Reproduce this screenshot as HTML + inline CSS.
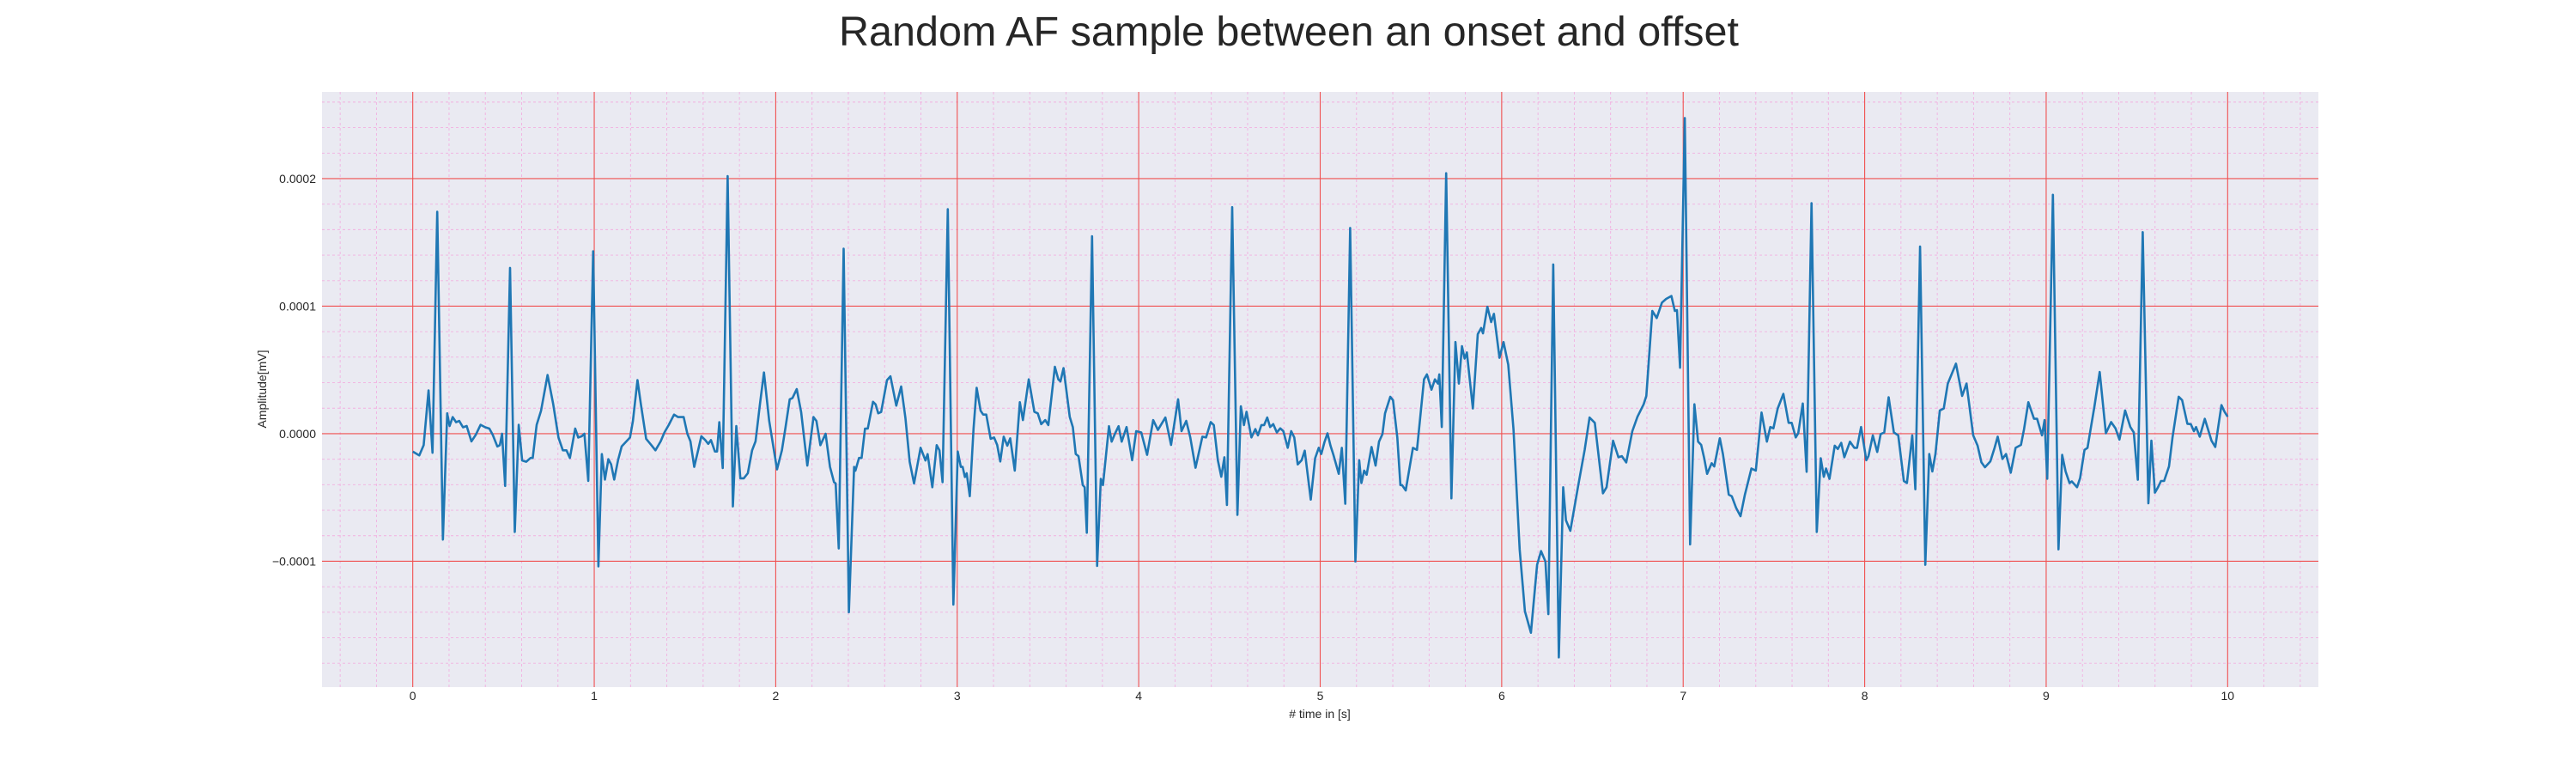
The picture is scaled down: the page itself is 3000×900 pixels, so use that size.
<!DOCTYPE html>
<html><head><meta charset="utf-8"><style>
html,body{margin:0;padding:0;background:#fff;}
svg{display:block;font-family:"Liberation Sans",Arial,sans-serif;}
</style></head><body>
<svg id="chart" width="3000" height="900" viewBox="0 0 3000 900" xmlns="http://www.w3.org/2000/svg">
<text x="1501" y="53" font-size="48.5" fill="#262626" text-anchor="middle">Random AF sample between an onset and offset</text>
<rect x="375" y="107" width="2325" height="693" fill="#EAEAF2"/>
<g id="minorGrid"></g>
<g id="majorGrid"></g>
<g id="series"></g>
<g id="xTicks"></g>
<g id="yTicks"></g>
<text x="1537" y="836" font-size="14" fill="#262626" text-anchor="middle"># time in [s]</text>
<text x="310" y="453" font-size="14" fill="#262626" text-anchor="middle" transform="rotate(-90 310 453)">Amplitude[mV]</text>
</svg>
<script>
const times = [0,0.036,0.06,0.087,0.109,0.135,0.166,0.19,0.203,0.22,0.239,0.256,0.277,0.297,0.323,0.347,0.374,0.40,0.422,0.441,0.466,0.48,0.492,0.509,0.536,0.562,0.584,0.603,0.625,0.649,0.661,0.683,0.707,0.743,0.774,0.803,0.827,0.847,0.866,0.895,0.912,0.931,0.946,0.967,0.994,1.023,1.042,1.059,1.078,1.093,1.11,1.131,1.151,1.177,1.197,1.213,1.238,1.257,1.286,1.315,1.337,1.366,1.387,1.411,1.44,1.462,1.479,1.493,1.513,1.53,1.551,1.571,1.59,1.612,1.628,1.643,1.665,1.677,1.689,1.708,1.735,1.764,1.783,1.805,1.824,1.846,1.87,1.889,1.913,1.935,1.964,2.007,2.034,2.053,2.077,2.092,2.116,2.14,2.174,2.191,2.208,2.224,2.246,2.275,2.299,2.321,2.33,2.347,2.374,2.403,2.432,2.439,2.459,2.473,2.492,2.507,2.536,2.55,2.565,2.581,2.613,2.632,2.664,2.691,2.715,2.738,2.762,2.798,2.825,2.837,2.863,2.887,2.902,2.919,2.948,2.979,3.003,3.02,3.03,3.042,3.052,3.069,3.09,3.107,3.129,3.143,3.16,3.184,3.203,3.220,3.237,3.256,3.276,3.292,3.317,3.345,3.362,3.394,3.425,3.444,3.463,3.485,3.502,3.538,3.557,3.569,3.586,3.620,3.637,3.653,3.668,3.692,3.702,3.714,3.743,3.771,3.791,3.803,3.836,3.851,3.870,3.889,3.906,3.933,3.964,3.986,4.014,4.046,4.080,4.106,4.147,4.178,4.217,4.236,4.262,4.284,4.313,4.351,4.371,4.397,4.414,4.436,4.455,4.472,4.486,4.515,4.544,4.563,4.580,4.594,4.621,4.643,4.657,4.676,4.691,4.708,4.724,4.741,4.761,4.780,4.797,4.821,4.840,4.857,4.876,4.898,4.915,4.948,4.972,4.992,5.006,5.023,5.040,5.057,5.073,5.102,5.119,5.138,5.165,5.194,5.215,5.227,5.242,5.256,5.283,5.305,5.324,5.343,5.357,5.386,5.401,5.425,5.442,5.451,5.471,5.511,5.533,5.572,5.588,5.613,5.632,5.649,5.656,5.670,5.694,5.723,5.745,5.764,5.781,5.796,5.808,5.841,5.868,5.887,5.897,5.921,5.942,5.957,5.988,6.010,6.036,6.065,6.099,6.128,6.161,6.195,6.217,6.241,6.257,6.284,6.315,6.339,6.354,6.378,6.421,6.457,6.484,6.513,6.558,6.578,6.614,6.643,6.662,6.686,6.720,6.748,6.782,6.797,6.830,6.854,6.883,6.906,6.935,6.954,6.966,6.983,7.009,7.038,7.062,7.082,7.099,7.116,7.132,7.157,7.171,7.202,7.219,7.251,7.268,7.292,7.316,7.340,7.376,7.400,7.432,7.461,7.480,7.497,7.521,7.552,7.581,7.598,7.620,7.634,7.659,7.680,7.707,7.736,7.758,7.775,7.787,7.806,7.835,7.852,7.871,7.888,7.919,7.943,7.958,7.980,8.009,8.021,8.045,8.069,8.088,8.108,8.132,8.161,8.185,8.216,8.233,8.262,8.279,8.305,8.334,8.356,8.373,8.390,8.414,8.436,8.458,8.503,8.537,8.561,8.598,8.622,8.643,8.663,8.692,8.716,8.733,8.759,8.779,8.805,8.832,8.861,8.878,8.902,8.933,8.950,8.977,8.991,9.006,9.037,9.068,9.088,9.107,9.129,9.141,9.170,9.187,9.211,9.228,9.266,9.295,9.329,9.358,9.382,9.404,9.435,9.464,9.483,9.505,9.532,9.563,9.580,9.599,9.616,9.633,9.650,9.677,9.696,9.730,9.749,9.778,9.797,9.814,9.826,9.846,9.874,9.911,9.932,9.966,9.983,10.0];
const amplitudes = [-0.14,-0.17,-0.09,0.34,-0.15,1.74,-0.83,0.16,0.06,0.13,0.09,0.10,0.05,0.06,-0.06,-0.01,0.07,0.05,0.04,-0.01,-0.10,-0.09,0.0,-0.41,1.30,-0.77,0.07,-0.21,-0.22,-0.19,-0.19,0.07,0.18,0.46,0.23,-0.03,-0.13,-0.13,-0.19,0.04,-0.03,-0.02,0.0,-0.37,1.43,-1.04,-0.16,-0.36,-0.20,-0.24,-0.36,-0.21,-0.10,-0.06,-0.03,0.10,0.42,0.23,-0.04,-0.09,-0.13,-0.06,0.01,0.07,0.15,0.13,0.13,0.13,0.0,-0.06,-0.26,-0.14,-0.02,-0.05,-0.08,-0.05,-0.14,-0.14,0.09,-0.27,2.02,-0.57,0.06,-0.35,-0.35,-0.31,-0.13,-0.06,0.23,0.48,0.10,-0.28,-0.13,0.04,0.27,0.28,0.35,0.17,-0.25,-0.06,0.13,0.10,-0.09,0.0,-0.26,-0.38,-0.39,-0.90,1.45,-1.40,-0.26,-0.29,-0.19,-0.19,0.04,0.04,0.25,0.23,0.16,0.17,0.42,0.45,0.22,0.37,0.12,-0.22,-0.39,-0.11,-0.21,-0.16,-0.42,-0.09,-0.13,-0.38,1.76,-1.34,-0.14,-0.26,-0.26,-0.34,-0.31,-0.49,0.04,0.36,0.18,0.15,0.15,-0.04,-0.03,-0.088,-0.218,-0.023,-0.094,-0.036,-0.289,0.247,0.107,0.426,0.172,0.159,0.075,0.107,0.068,0.524,0.426,0.410,0.514,0.133,0.052,-0.159,-0.176,-0.403,-0.420,-0.777,1.548,-1.037,-0.354,-0.403,0.059,-0.062,0.003,0.059,-0.062,0.052,-0.208,0.020,0.010,-0.166,0.107,0.029,0.127,-0.088,0.270,0.020,0.101,-0.029,-0.267,-0.023,-0.029,0.091,0.068,-0.208,-0.338,-0.185,-0.559,1.776,-0.637,0.215,0.068,0.172,-0.029,0.036,-0.013,0.068,0.068,0.127,0.052,0.075,0.010,0.042,0.020,-0.111,0.020,-0.029,-0.241,-0.208,-0.133,-0.517,-0.192,-0.111,-0.159,-0.068,0.003,-0.094,-0.166,-0.315,-0.111,-0.550,1.613,-1.002,-0.208,-0.387,-0.289,-0.322,-0.104,-0.250,-0.062,-0.003,0.159,0.289,0.263,-0.029,-0.403,-0.403,-0.445,-0.111,-0.127,0.426,0.465,0.345,0.426,0.393,0.465,0.052,2.042,-0.507,0.719,0.393,0.686,0.589,0.637,0.198,0.780,0.829,0.787,0.995,0.875,0.940,0.595,0.719,0.541,0.036,-0.907,-1.392,-1.561,-1.028,-0.920,-1.002,-1.415,1.327,-1.753,-0.420,-0.679,-0.761,-0.413,-0.127,0.127,0.085,-0.468,-0.420,-0.055,-0.185,-0.176,-0.225,0.020,0.133,0.231,0.296,0.963,0.907,1.028,1.057,1.08,0.963,0.969,0.517,2.475,-0.868,0.231,-0.062,-0.088,-0.192,-0.315,-0.231,-0.257,-0.036,-0.159,-0.478,-0.491,-0.582,-0.647,-0.478,-0.273,-0.289,0.166,-0.062,0.052,0.042,0.198,0.312,0.085,0.085,-0.029,0.003,0.237,-0.299,1.808,-0.770,-0.192,-0.338,-0.273,-0.354,-0.094,-0.120,-0.072,-0.185,-0.062,-0.111,-0.111,0.052,-0.208,-0.176,-0.013,-0.143,-0.003,0.010,0.286,0.010,-0.013,-0.371,-0.387,-0.013,-0.436,1.467,-1.028,-0.159,-0.296,-0.159,0.182,0.198,0.393,0.549,0.296,0.393,-0.013,-0.094,-0.224,-0.263,-0.218,-0.111,-0.023,-0.198,-0.159,-0.306,-0.111,-0.088,0.036,0.247,0.117,0.117,-0.013,0.107,-0.354,1.873,-0.907,-0.166,-0.296,-0.387,-0.374,-0.420,-0.348,-0.127,-0.111,0.215,0.484,0.003,0.091,0.042,-0.046,0.182,0.052,0.010,-0.361,1.580,-0.546,-0.055,-0.462,-0.420,-0.371,-0.371,-0.257,-0.029,0.290,0.263,0.078,0.075,0.020,0.052,-0.023,0.117,-0.055,-0.104,0.224,0.172,0.133];
const xTickLabels = ["0","1","2","3","4","5","6","7","8","9","10"];
const yTickValues = [2,1,0,-1];
const yTickLabels = ["0.0002","0.0001","0.0000","\u22120.0001"];

const NS = "http://www.w3.org/2000/svg";
const L = 375, R = 2700, T = 107, B = 800;
const xMin = -0.5, xMax = 10.5, yMin = -1.987, yMax = 2.68;
function xs(t){ return L + (t - xMin) / (xMax - xMin) * (R - L); }
function ys(v){ return B - (v - yMin) / (yMax - yMin) * (B - T); }
function mk(tag, attrs, parent){ const e = document.createElementNS(NS, tag); for (const k in attrs) e.setAttribute(k, attrs[k]); parent.appendChild(e); return e; }

const minorG = document.getElementById('minorGrid');
const majorG = document.getElementById('majorGrid');
for (let i = -3; i <= 53; i++) {
  const t = i * 0.2; if (t < xMin || t > xMax) continue;
  if (i % 5 === 0) continue;
  const ln = mk('line', {x1: xs(t), x2: xs(t), y1: T, y2: B, stroke: '#f2b0e0', 'stroke-width': 0.9, 'stroke-dasharray': '3,3'}, minorG);
  
  
}
for (let i = -10; i <= 14; i++) {
  const v = i * 0.2; if (v < yMin || v > yMax) continue;
  if (i % 5 === 0) continue;
  const ln = mk('line', {x1: L, x2: R, y1: ys(v), y2: ys(v), stroke: '#f2b0e0', 'stroke-width': 0.9, 'stroke-dasharray': '3,3'}, minorG);
  
  
}
const xt = document.getElementById('xTicks');
xTickLabels.forEach((lab, i) => {
  const t = Number(lab);
  const ln = mk('line', {x1: xs(t), x2: xs(t), y1: T, y2: B, stroke: '#f05050', 'stroke-width': 1.1}, majorG);
  
  
  const tx = mk('text', {x: xs(t), y: 815, 'font-size': 14, fill: '#262626', 'text-anchor': 'middle'}, xt);
  tx.textContent = lab;
  
  
});
const yt = document.getElementById('yTicks');
yTickValues.forEach((v, i) => {
  const ln = mk('line', {x1: L, x2: R, y1: ys(v), y2: ys(v), stroke: '#f05050', 'stroke-width': 1.1}, majorG);
  
  
  const tx = mk('text', {x: 368, y: ys(v) + 5, 'font-size': 14, fill: '#262626', 'text-anchor': 'end'}, yt);
  tx.textContent = yTickLabels[i];
  
  
});
const pts = times.map((t, i) => xs(t).toFixed(1) + ',' + ys(amplitudes[i]).toFixed(1)).join(' ');
const pl = mk('polyline', {points: pts, fill: 'none', stroke: '#1f77b4', 'stroke-width': 2.6, 'stroke-linejoin': 'round'}, document.getElementById('series'));


</script>
</body></html>
